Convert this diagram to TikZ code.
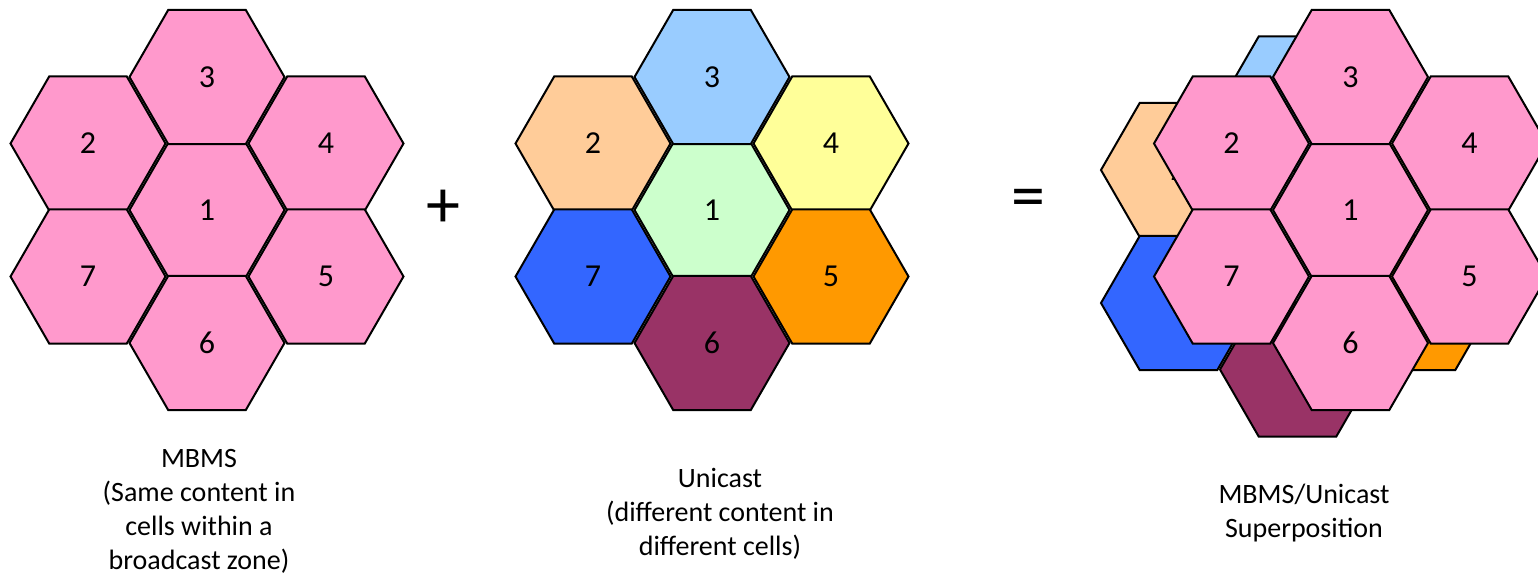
\documentclass[tikz,border=0pt]{standalone}
\usepackage{fontspec}
\setmainfont{Carlito}
\usetikzlibrary{shapes.geometric}
\definecolor{cellpink}{HTML}{FF99CC}
\definecolor{cellgreen}{HTML}{CCFFCC}
\definecolor{cellpeach}{HTML}{FFCC99}
\definecolor{cellsky}{HTML}{99CCFF}
\definecolor{cellyellow}{HTML}{FFFF99}
\definecolor{cellorange}{HTML}{FF9900}
\definecolor{cellplum}{HTML}{993366}
\definecolor{cellblue}{HTML}{3366FF}
\tikzset{
    cell/.style={regular polygon, regular polygon sides=6, minimum size=77.5pt,
                 inner sep=0pt, draw=black, line width=1pt,
                 font=\fontsize{16}{19}\selectfont},   % one hexagonal cell
    caption/.style={align=center, anchor=base, font=\fontsize{14}{17}\selectfont},
    sign/.style={font=\fontsize{34}{40}\selectfont}
}

\begin{document}
\begin{tikzpicture}[x=0.5pt,y=-0.5pt]
            \useasboundingbox (0,0) rectangle (1538,579);

            % MBMS: same content everywhere
            \begin{scope}[shift={(207,210)}]
                \foreach \n/\dx/\dy in {1/0/0,2/-119/-66.5,3/0/-133,4/119/-66.5,5/119/66.5,6/0/133,7/-119/66.5}
                {
                    \node[cell,fill=cellpink] (m\n) at (\dx,\dy) {\n};
                }
            \end{scope}

            % Unicast: one colour per cell
            \begin{scope}[shift={(712,210)}]
                \foreach \n/\dx/\dy/\col in {1/0/0/cellgreen,2/-119/-66.5/cellpeach,3/0/-133/cellsky,4/119/-66.5/cellyellow,5/119/66.5/cellorange,6/0/133/cellplum,7/-119/66.5/cellblue}
                {
                    \node[cell,fill=\col] (u\n) at (\dx,\dy) {\n};
                }
            \end{scope}

            % superposition: unicast below, MBMS on top
            \begin{scope}[shift={(1297.5,236.5)}]
                \foreach \n/\dx/\dy/\col in {1/0/0/cellgreen,2/-119/-66.5/cellpeach,3/0/-133/cellsky,4/119/-66.5/cellyellow,5/119/66.5/cellorange,6/0/133/cellplum,7/-119/66.5/cellblue}
                {
                    \node[cell,fill=\col] (c\n) at (\dx,\dy) {\n};
                }
            \end{scope}
            \begin{scope}[shift={(1350.5,210)}]
                \foreach \n/\dx/\dy in {1/0/0,2/-119/-66.5,3/0/-133,4/119/-66.5,5/119/66.5,6/0/133,7/-119/66.5}
                {
                    \node[cell,fill=cellpink] (s\n) at (\dx,\dy) {\n};
                }
            \end{scope}

            \node[sign] (plus) at (443,209) {+};
            \node[sign] (equals) at (1028,204) {=};

            % captions, placed at the baseline of their last line
            \node[caption] (mbms) at (199,569) {MBMS\\(Same content in\\cells within a\\broadcast zone)};
            \node[caption] (unicast) at (720,555) {Unicast\\(different content in\\different cells)};
            \node[caption] (super) at (1304,537) {MBMS/Unicast\\Superposition};

        \end{tikzpicture}
\end{document}
